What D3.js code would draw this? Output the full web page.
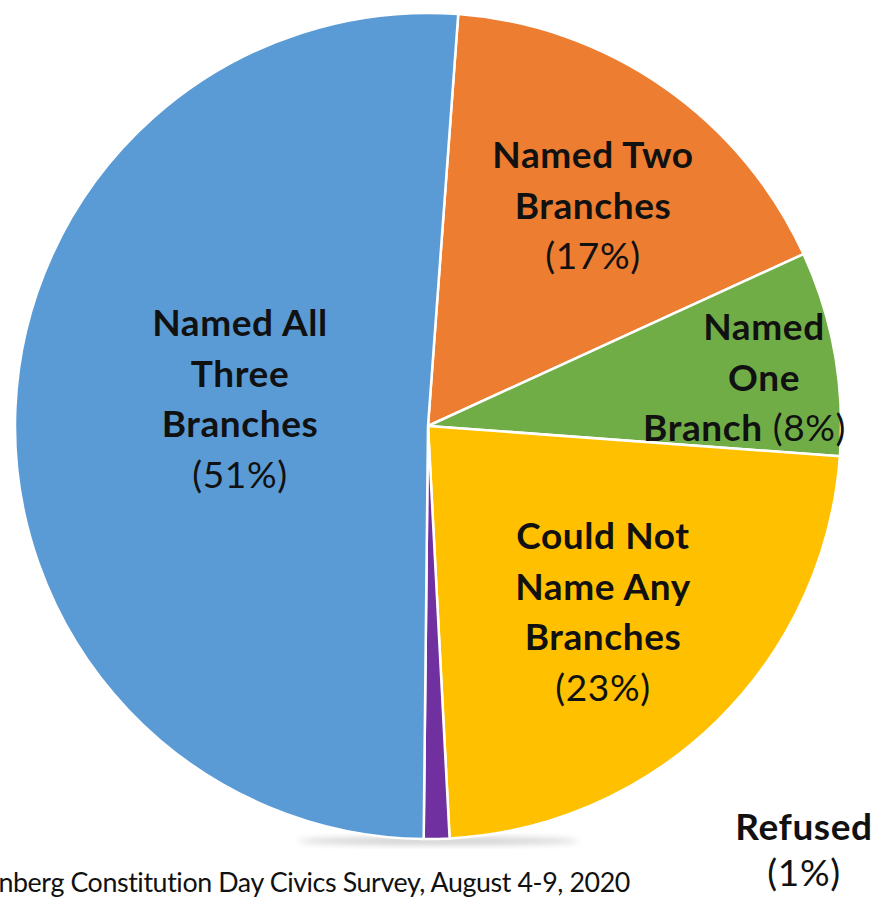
<!DOCTYPE html>
<html>
<head>
<meta charset="utf-8">
<script src="https://cdn.jsdelivr.net/npm/d3@7"></script>
<style>
  body { margin: 0; background: #fff; }
  svg { display: block; }
  text { font-family: Lato, "Open Sans", sans-serif; fill: #111; }
</style>
</head>
<body>
<div id="chart"></div>
<script>
// slices in drawing order, clockwise from just right of 12 o'clock
var categories = ["Named Two Branches", "Named One Branch", "Could Not Name Any Branches", "Refused", "Named All Three Branches"];
var values = [17, 8, 23, 1, 51];
var colors = ["#ED7D31", "#70AD47", "#FFC000", "#7030A0", "#5B9BD5"];
// label lines: [bold part, regular part]
var labelLines = [
  [["Named Two", ""], ["Branches", ""], ["", "(17%)"]],
  [["Named", ""], ["One", ""], ["Branch", " (8%)"]],
  [["Could Not", ""], ["Name Any", ""], ["Branches", ""], ["", "(23%)"]],
  [["Refused", ""], ["", "(1%)"]],
  [["Named All", ""], ["Three", ""], ["Branches", ""], ["", "(51%)"]]
];
var source = "Annenberg Constitution Day Civics Survey, August 4-9, 2020";

var width = 876, height = 897;
var cx = 428, cy = 426, radius = 413;
var startDeg = 4.2;

var svg = d3.select("#chart").append("svg")
    .attr("width", width)
    .attr("height", height);

var defs = svg.append("defs");
var blur = defs.append("filter").attr("id", "blur")
    .attr("x", "-20%").attr("y", "-50%").attr("width", "140%").attr("height", "200%");
blur.append("feGaussianBlur").attr("stdDeviation", 3);
var grad = defs.append("linearGradient").attr("id", "fade");
grad.append("stop").attr("offset", "0%").attr("stop-color", "#888");
grad.append("stop").attr("offset", "100%").attr("stop-color", "#aaa");

// soft shadow under the pie
svg.append("ellipse")
    .attr("cx", cx + 10).attr("cy", cy + radius + 2)
    .attr("rx", 140).attr("ry", 4)
    .attr("fill", "#999")
    .attr("opacity", 0.45)
    .attr("filter", "url(#blur)");
svg.append("line")
    .attr("x1", cx + 20).attr("x2", 692)
    .attr("y1", cy + radius + 6).attr("y2", cy + radius + 6)
    .attr("stroke", "url(#fade)")
    .attr("stroke-width", 2);

var pie = d3.pie()
    .sort(null)
    .value(function(d) { return d; })
    .startAngle(startDeg * Math.PI / 180)
    .endAngle(startDeg * Math.PI / 180 + 2 * Math.PI);

var arc = d3.arc().innerRadius(0).outerRadius(radius);

var g = svg.append("g").attr("transform", "translate(" + cx + "," + cy + ")");

g.selectAll("path")
    .data(pie(values))
    .enter().append("path")
    .attr("d", arc)
    .attr("fill", function(d, i) { return colors[i]; })
    .attr("stroke", "#fff")
    .attr("stroke-width", 2.5)
    .attr("stroke-linejoin", "round");

// label anchors (x of the text, baseline of the first line)
var labelLayout = [
  { x: 593, y: 168 },
  { x: 764, y: 340 },
  { x: 603, y: 549 },
  { x: 804, y: 840 },
  { x: 240, y: 336 }
];
var lineH = 50.5;

labelLines.forEach(function(lines, i) {
  var lay = labelLayout[i];
  lines.forEach(function(parts, j) {
    var x = lay.x, anchor = "middle";
    if (i === 1 && j === 2) { x = 846; anchor = "end"; }
    var y = lay.y + j * lineH;
    if (i === 3 && j === 1) y = lay.y + 46;
    var t = svg.append("text")
        .attr("x", x)
        .attr("y", y)
        .attr("text-anchor", anchor)
        .style("font-size", "37px")
        .style("letter-spacing", "0.6px");
    if (parts[0]) t.append("tspan").attr("font-weight", 700).text(parts[0]);
    if (parts[1]) t.append("tspan").attr("font-weight", 400).text(parts[1]);
  });
});

// source line, clipped at the left edge like the original
var src = svg.append("text")
    .attr("x", 630)
    .attr("y", 892)
    .attr("text-anchor", "end")
    .style("font-size", "24px")
    .style("letter-spacing", "-0.4px")
    .text(source);
// scale so that "nberg ... 2020" spans from x=0 to x=630
var full = src.node().getComputedTextLength();
var cut = src.node().getSubStringLength(0, 4);
var fs = 24 * 630 / (full - cut);
src.style("font-size", fs.toFixed(1) + "px");
</script>
</body>
</html>
